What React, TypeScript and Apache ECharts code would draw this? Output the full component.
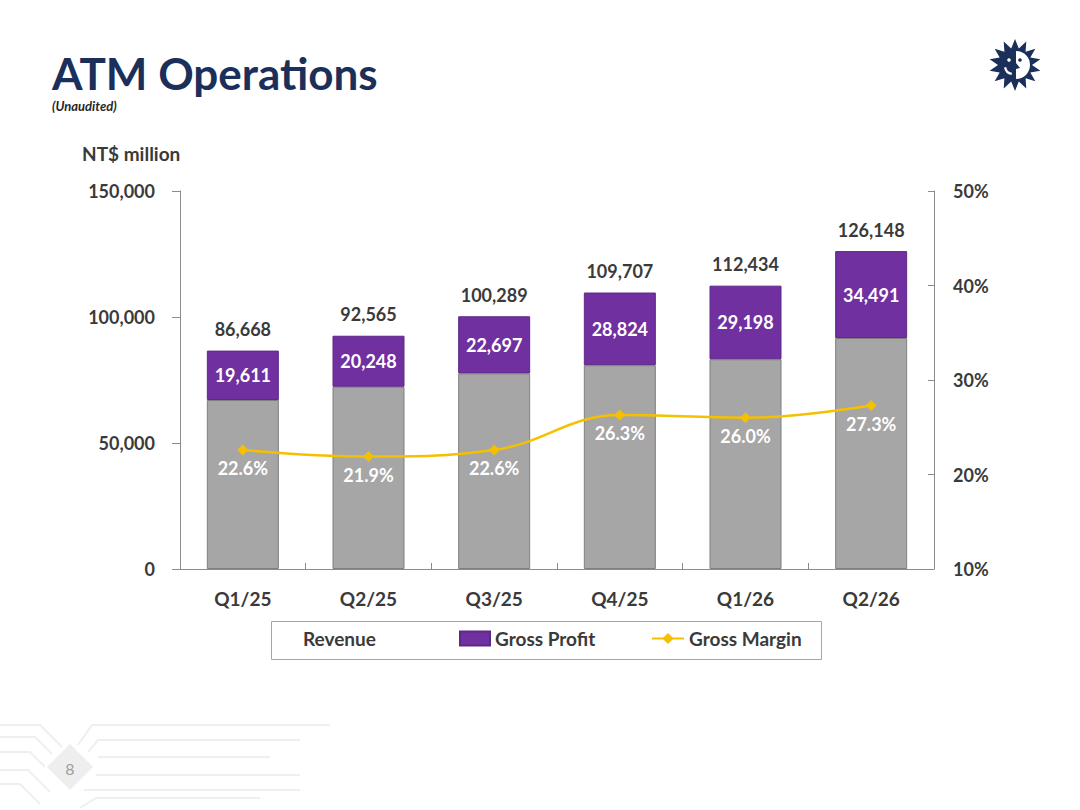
import React, { useEffect, useRef } from "react";
import * as echarts from "echarts";

const categories = ["Q1/25", "Q2/25", "Q3/25", "Q4/25", "Q1/26", "Q2/26"];
const revenue = [86668, 92565, 100289, 109707, 112434, 126148];
const grossProfit = [19611, 20248, 22697, 28824, 29198, 34491];
const grossMargin = [22.6, 21.9, 22.6, 26.3, 26.0, 27.3];
const leftTicks = { min: 0, max: 150000, interval: 50000 };
const rightTicks = { min: 10, max: 50, interval: 10 };

const FONT = "Lato";
const DARK = "#3A3A3A";
const NAVY = "#1B2F5B";
const PURPLE = "#7030A0";
const GREY = "#A6A6A6";
const GOLD = "#F5C000";

const fmt = (v: number) => v.toLocaleString("en-US");

function starPoints(cx: number, cy: number, ro: number, ri: number, n: number) {
  const pts: number[][] = [];
  for (let i = 0; i < n * 2; i++) {
    const a = (Math.PI * i) / n - Math.PI / 2;
    const r = i % 2 === 0 ? ro : ri;
    pts.push([cx + r * Math.cos(a), cy + r * Math.sin(a)]);
  }
  return pts;
}

export default function App() {
  const ref = useRef<HTMLDivElement>(null);
  useEffect(() => {
    document.body.style.margin = "0";
    const chart = echarts.init(ref.current!, undefined, { renderer: "svg" });
    const cost = revenue.map((r, i) => r - grossProfit[i]);
    const lineCol = "#EFEFEF";
    const pl = (points: number[][]) => ({
      type: "polyline",
      shape: { points },
      style: { stroke: lineCol, lineWidth: 2, fill: "none" },
      silent: true,
    });
    const deco: any[] = [
      pl([[0, 725], [40, 725], [62, 747]]),
      pl([[0, 737], [35, 737], [52, 754]]),
      pl([[0, 752], [30, 752], [45, 767]]),
      pl([[0, 770], [28, 770], [50, 792]]),
      pl([[0, 784], [20, 784], [40, 804]]),
      pl([[78, 745], [92, 725], [330, 725]]),
      pl([[88, 752], [98, 740], [300, 740]]),
      pl([[98, 757], [270, 757]]),
      pl([[96, 775], [300, 775]]),
      pl([[84, 790], [100, 790], [300, 790]]),
      pl([[80, 808], [96, 798], [260, 798]]),
      {
        type: "polygon",
        shape: { points: [[70, 744], [93, 767], [70, 790], [47, 767]] },
        style: { fill: "#EEEEEE" },
        silent: true,
      },
      {
        type: "text",
        x: 70,
        y: 768,
        style: { text: "8", fill: "#A0A0A0", font: `16px ${FONT}`, align: "center", verticalAlign: "middle" },
      },
    ];
    const logo: any[] = [
      { type: "polygon", shape: { points: starPoints(1015, 65, 26, 17, 14) }, style: { fill: NAVY }, silent: true },
      { type: "sector", shape: { cx: 1016, cy: 65, r0: 0, r: 14, startAngle: -Math.PI / 2, endAngle: Math.PI / 2 }, style: { fill: "#ffffff" }, silent: true },
      { type: "circle", shape: { cx: 1020, cy: 60, r: 1.8 }, style: { fill: NAVY }, silent: true },
      { type: "circle", shape: { cx: 1009, cy: 60, r: 1.8 }, style: { fill: "#ffffff" }, silent: true },
      { type: "arc", shape: { cx: 1013, cy: 66, r: 8, startAngle: Math.PI * 0.55, endAngle: Math.PI * 0.95 }, style: { stroke: "#ffffff", lineWidth: 2.2, fill: "none" }, silent: true },
      { type: "polygon", shape: { points: [[1016, 63], [1020, 68], [1016, 69]] }, style: { fill: NAVY }, silent: true },
    ];

    const legendText = { fontFamily: FONT, fontSize: 19, fontWeight: "bold", color: DARK };
    const legendBase = {
      top: 629,
      padding: 0,
      itemHeight: 14,
      selectedMode: false,
      textStyle: legendText,
    };

    chart.setOption({
      animation: false,
      grid: { left: 180, right: 146, top: 191, bottom: 241, containLabel: false },
      legend: [
        {
          ...legendBase,
          left: 268,
          itemWidth: 30,
          data: [{ name: "Revenue", icon: "rect", itemStyle: { color: "rgba(0,0,0,0)", borderWidth: 0, opacity: 0 } }],
        },
        {
          ...legendBase,
          left: 459,
          itemWidth: 30,
          data: [{ name: "Gross Profit", icon: "rect" }],
        },
        {
          ...legendBase,
          left: 651,
          itemWidth: 32,
          data: [{ name: "Gross Margin" }],
        },
      ],
      xAxis: {
        type: "category",
        data: categories,
        boundaryGap: true,
        axisLine: { show: true, lineStyle: { color: "#8C8C8C", width: 1 } },
        axisTick: { show: true, inside: true, length: 6, alignWithLabel: false, lineStyle: { color: "#8C8C8C" } },
        axisLabel: { margin: 20, fontFamily: FONT, fontSize: 19, fontWeight: "bold", color: DARK },
        splitLine: { show: false },
      },
      yAxis: [
        {
          type: "value",
          ...leftTicks,
          axisLine: { show: true, lineStyle: { color: "#8C8C8C", width: 1 } },
          axisTick: { show: true, inside: false, length: 8, lineStyle: { color: "#8C8C8C" } },
          axisLabel: { margin: 25, fontFamily: FONT, fontSize: 18, fontWeight: "bold", color: DARK, formatter: (v: number) => fmt(v) },
          splitLine: { show: false },
        },
        {
          type: "value",
          ...rightTicks,
          position: "right",
          axisLine: { show: true, lineStyle: { color: "#8C8C8C", width: 1 } },
          axisTick: { show: true, inside: true, length: 6, lineStyle: { color: "#8C8C8C" } },
          axisLabel: { margin: 19, fontFamily: FONT, fontSize: 18, fontWeight: "bold", color: DARK, formatter: "{value}%" },
          splitLine: { show: false },
        },
      ],
      series: [
        {
          name: "Revenue",
          type: "bar",
          stack: "rev",
          barWidth: 72,
          data: cost,
          itemStyle: { color: GREY, borderColor: "#7F7F7F", borderWidth: 1 },
        },
        {
          name: "Gross Profit",
          type: "bar",
          stack: "rev",
          barWidth: 72,
          data: grossProfit,
          itemStyle: { color: PURPLE, borderColor: "#5E2887", borderWidth: 1 },
          label: {
            show: true,
            position: "inside",
            fontFamily: FONT,
            fontSize: 18,
            fontWeight: "bold",
            color: "#ffffff",
            formatter: (p: any) => fmt(p.value),
          },
        },
        {
          name: "Revenue total",
          type: "scatter",
          data: revenue,
          symbol: "circle",
          symbolSize: 1,
          itemStyle: { color: "rgba(0,0,0,0)", opacity: 1 },
          silent: true,
          label: {
            show: true,
            position: "top",
            distance: 12,
            fontFamily: FONT,
            fontSize: 18,
            fontWeight: "bold",
            color: DARK,
            opacity: 1,
            formatter: (p: any) => fmt(p.value),
          },
          z: 5,
        },
        {
          name: "Gross Margin",
          type: "line",
          yAxisIndex: 1,
          data: grossMargin,
          smooth: 0.4,
          symbol: "diamond",
          symbolSize: 11,
          lineStyle: { color: GOLD, width: 2.5 },
          itemStyle: { color: GOLD },
          label: {
            show: true,
            position: "bottom",
            distance: 4,
            fontFamily: FONT,
            fontSize: 18,
            fontWeight: "bold",
            color: "#ffffff",
            formatter: (p: any) => p.value.toFixed(1) + "%",
          },
          z: 10,
        },
      ],
      graphic: [
        ...deco,
        ...logo,
        {
          type: "text",
          x: 52,
          y: 73,
          style: { text: "ATM Operations", fill: NAVY, font: `bold 44px ${FONT}`, verticalAlign: "middle" },
        },
        {
          type: "text",
          x: 52,
          y: 106,
          style: { text: "(Unaudited)", fill: "#262626", font: `italic bold 13px ${FONT}`, verticalAlign: "middle" },
        },
        {
          type: "text",
          x: 82,
          y: 153,
          style: { text: "NT$ million", fill: DARK, font: `bold 19px ${FONT}`, verticalAlign: "middle" },
        },
        {
          type: "rect",
          shape: { x: 271.5, y: 621.5, width: 550, height: 38 },
          style: { fill: "none", stroke: "#A6A6A6", lineWidth: 1 },
          silent: true,
        },
      ],
    });
    return () => chart.dispose();
  }, []);
  return <div ref={ref} style={{ width: 1080, height: 810 }} />;
}
